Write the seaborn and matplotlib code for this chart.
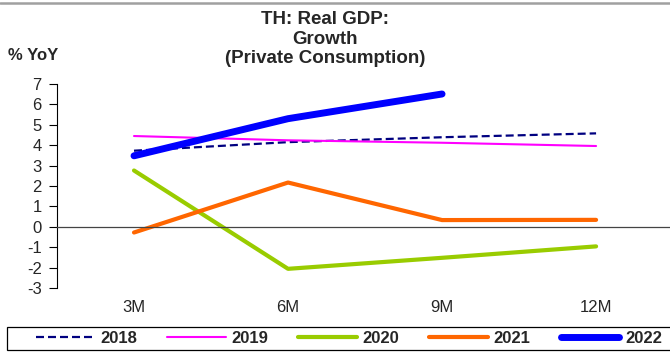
# TH Real GDP growth, private consumption
import matplotlib

matplotlib.use("Agg")
import matplotlib.pyplot as plt
import numpy as np
import pandas as pd
import seaborn as sns
from matplotlib.lines import Line2D
from matplotlib.patches import Rectangle

QUARTERS = ["3M", "6M", "9M", "12M"]
YEARS = ["2018", "2019", "2020", "2021", "2022"]
Y2018 = [3.73, 4.15, 4.39, 4.58]
Y2019 = [4.45, 4.24, 4.12, 3.96]
Y2020 = [2.76, -2.06, -1.52, -0.96]
Y2021 = [-0.28, 2.17, 0.33, 0.34]
Y2022 = [3.48, 5.30, 6.51, np.nan]

COLORS = ["#000080", "#ff00ff", "#99cc00", "#ff6600", "#0000ff"]
WIDTHS = [1.6, 1.5, 3.0, 3.0, 5.0]
STYLES = [(0, (3.6, 1.8)), "-", "-", "-", "-"]

W, H = 670, 353


def build_df() -> pd.DataFrame:
    rows = []
    for year, vals in zip(YEARS, [Y2018, Y2019, Y2020, Y2021, Y2022]):
        for q, v in zip(QUARTERS, vals):
            rows.append({"quarter": q, "year": year, "value": v})
    return pd.DataFrame(rows)


def plot(df: pd.DataFrame) -> None:
    sns.set_style("white")
    plt.rcParams["font.family"] = ["Liberation Sans", "DejaVu Sans"]
    plt.rcParams["axes.unicode_minus"] = False

    fig = plt.figure(figsize=(W / 100, H / 100), dpi=100)
    ax = fig.add_axes([57 / W, 1 - 288 / H, 1 - 57 / W, (288 - 84) / H])

    for year, color, lw, ls in zip(YEARS, COLORS, WIDTHS, STYLES):
        sub = df[df["year"] == year].dropna()
        sns.lineplot(
            data=sub,
            x="quarter",
            y="value",
            ax=ax,
            color=color,
            linewidth=lw,
            linestyle=ls,
            label=year,
            sort=False,
            solid_capstyle="round",
        )

    handles, labels = ax.get_legend_handles_labels()
    ax.get_legend().remove()

    ax.set_xlim(-0.5, 3.48)
    ax.set_ylim(-3, 7)
    ax.set_yticks(range(-3, 8))
    ax.set_xlabel("")
    ax.set_ylabel("")

    # Spines: left axis plus a zero line carrying the category separators
    for side in ["top", "right"]:
        ax.spines[side].set_visible(False)
    ax.spines["left"].set_color("black")
    ax.spines["left"].set_linewidth(0.8)
    ax.spines["bottom"].set_position(("data", 0))
    ax.spines["bottom"].set_color("#444444")
    ax.spines["bottom"].set_linewidth(0.9)
    ax.set_xticks([0.5, 1.5, 2.5], labels=["", "", ""])
    ax.tick_params(axis="x", direction="out", length=3, width=0.8, color="#444444")
    ax.tick_params(axis="y", direction="out", length=6, width=0.8, left=True,
                   labelsize=12, pad=5, color="black")

    # Category labels sit at the bottom of the plot area
    sec = ax.secondary_xaxis(0.0)
    sec.set_xticks(range(len(QUARTERS)), labels=QUARTERS)
    sec.spines["bottom"].set_visible(False)
    sec.tick_params(length=0, labelsize=12, pad=9)

    fig.text(325 / W, 1 - 11 / H, "TH: Real GDP:\nGrowth\n(Private Consumption)",
             ha="center", va="top", fontsize=13.5, fontweight="bold",
             linespacing=1.2)
    fig.text(8 / W, 1 - 60 / H, "% YoY", ha="left", va="baseline",
             fontsize=12, fontweight="bold")

    # Thin gray frame line at the top
    fig.add_artist(Line2D([0, 1], [1 - 3 / H, 1 - 3 / H], color="#a0a0a0",
                          linewidth=1.8, transform=fig.transFigure))

    # Legend box drawn separately so the entries can sit compactly inside it
    fig.add_artist(Rectangle((7 / W, 3 / H), 1.0, 23 / H, transform=fig.transFigure,
                             facecolor="white", edgecolor="black", linewidth=0.9,
                             zorder=1))
    fig.legend(
        handles,
        labels,
        loc="center left",
        bbox_to_anchor=(36 / W, 1 - 338.5 / H),
        ncol=5,
        frameon=False,
        borderaxespad=0,
        borderpad=0,
        handlelength=3.5,
        handletextpad=0.36,
        columnspacing=1.8,
        prop={"weight": "bold", "size": 12},
    ).set_zorder(2)

    fig.savefig("out.png", dpi=100)
    plt.close(fig)


def main() -> None:
    plot(build_df())


if __name__ == "__main__":
    main()
